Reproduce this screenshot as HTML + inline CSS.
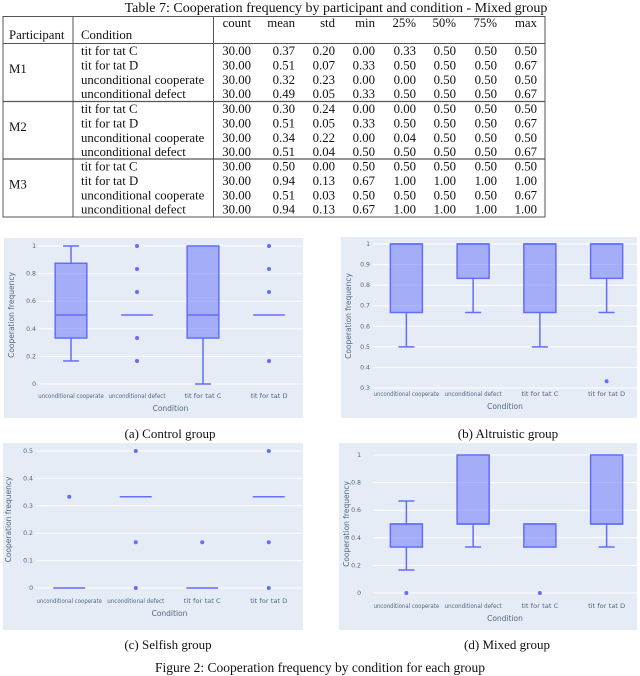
<!DOCTYPE html>
<html><head><meta charset="utf-8">
<style>
html,body{margin:0;padding:0;background:#fff;}
body{width:640px;height:676px;overflow:hidden;position:relative;}
svg{position:absolute;left:0;top:0;}
.serif{font-family:"Liberation Serif",serif;fill:#111;}
.tick{font-family:"DejaVu Sans","Liberation Sans",sans-serif;font-size:6.2px;fill:#506784;}
.axt{font-family:"DejaVu Sans","Liberation Sans",sans-serif;font-size:7.5px;fill:#506784;}
</style></head>
<body>
<svg id="main" width="640" height="676" viewBox="0 0 640 676" xmlns="http://www.w3.org/2000/svg">
<g>
<text class="serif" x="336" y="12" font-size="14" text-anchor="middle">Table 7: Cooperation frequency by participant and condition - Mixed group</text>
<rect x="3" y="16.5" width="542" height="200.5" fill="none" stroke="#555" stroke-width="1"/>
<line x1="73" y1="16.5" x2="73" y2="217" stroke="#555"/>
<line x1="213.5" y1="16.5" x2="213.5" y2="217" stroke="#555"/>
<line x1="3" y1="43.5" x2="545" y2="43.5" stroke="#555"/>
<line x1="3" y1="101.5" x2="545" y2="101.5" stroke="#555" stroke-width="1.3"/>
<line x1="3" y1="159" x2="545" y2="159" stroke="#555" stroke-width="1.3"/>
<g id="tbl"></g>
</g>
<g id="charts"></g>
<text class="serif" x="170" y="438" font-size="13" text-anchor="middle">(a) Control group</text>
<text class="serif" x="508" y="438" font-size="13" text-anchor="middle">(b) Altruistic group</text>
<text class="serif" x="168" y="649" font-size="13" text-anchor="middle">(c) Selfish group</text>
<text class="serif" x="507" y="649" font-size="13" text-anchor="middle">(d) Mixed group</text>
<text class="serif" x="320" y="672" font-size="13.5" text-anchor="middle">Figure 2: Cooperation frequency by condition for each group</text>
</svg>
<script>
const NS="http://www.w3.org/2000/svg";
// ---- table data ----
const headers=["count","mean","std","min","25%","50%","75%","max"];
const participants=["M1","M2","M3"];
const conditionsT=["tit for tat C","tit for tat D","unconditional cooperate","unconditional defect"];
const tableRows=[
["30.00","0.37","0.20","0.00","0.33","0.50","0.50","0.50"],
["30.00","0.51","0.07","0.33","0.50","0.50","0.50","0.67"],
["30.00","0.32","0.23","0.00","0.00","0.50","0.50","0.50"],
["30.00","0.49","0.05","0.33","0.50","0.50","0.50","0.67"],
["30.00","0.30","0.24","0.00","0.00","0.50","0.50","0.50"],
["30.00","0.51","0.05","0.33","0.50","0.50","0.50","0.67"],
["30.00","0.34","0.22","0.00","0.04","0.50","0.50","0.50"],
["30.00","0.51","0.04","0.50","0.50","0.50","0.50","0.67"],
["30.00","0.50","0.00","0.50","0.50","0.50","0.50","0.50"],
["30.00","0.94","0.13","0.67","1.00","1.00","1.00","1.00"],
["30.00","0.51","0.03","0.50","0.50","0.50","0.50","0.67"],
["30.00","0.94","0.13","0.67","1.00","1.00","1.00","1.00"]];
const colRight=[251,295,335,375,416,456,497,537];
const groupTop=[44,102,159.5];
function txt(parent,x,y,s,size,anchor,cls){
  const t=document.createElementNS(NS,"text");
  t.setAttribute("x",x);t.setAttribute("y",y);
  t.setAttribute("font-size",size);
  t.setAttribute("text-anchor",anchor||"start");
  t.setAttribute("class",cls||"serif");
  t.textContent=s;parent.appendChild(t);return t;
}
const tbl=document.getElementById("tbl");
headers.forEach((h,i)=>{
  const t=txt(tbl,colRight[i],27,h,12.8,"end");
  
  
});
let t0=txt(tbl,9,39,"Participant",12.8);


t0=txt(tbl,81,39,"Condition",12.8);


participants.forEach((p,g)=>{
  const top=groupTop[g];
  const pt=txt(tbl,9,top+29,p,12.8);
  
  
  conditionsT.forEach((c,r)=>{
    const y=top+11+r*14.4;
    const ct=txt(tbl,81,y,c,12.8);
    
    
    tableRows[g*4+r].forEach((v,i)=>{
      const vt=txt(tbl,colRight[i],y,v,12.8,"end");
      
      
    });
  });
});

// ---- chart data ----
const categories=["unconditional cooperate","unconditional defect","tit for tat C","tit for tat D"];
// Control group
const aLow=[0.167,0.5,0,0.5], aQ1=[0.333,0.5,0.333,0.5], aMed=[0.5,0.5,0.5,0.5], aQ3=[0.875,0.5,1,0.5], aHigh=[1,0.5,1,0.5];
const aOut=[[],[1,0.833,0.667,0.333,0.167],[],[1,0.833,0.667,0.167]];
const aTicks=[0,0.2,0.4,0.6,0.8,1];
// Altruistic group
const bLow=[0.5,0.667,0.5,0.667], bQ1=[0.667,0.833,0.667,0.833], bMed=[1,1,1,1], bQ3=[1,1,1,1], bHigh=[1,1,1,1];
const bOut=[[],[],[],[0.333]];
const bTicks=[0.3,0.4,0.5,0.6,0.7,0.8,0.9,1];
// Selfish group
const cLow=[0,0.333,0,0.333], cQ1=[0,0.333,0,0.333], cMed=[0,0.333,0,0.333], cQ3=[0,0.333,0,0.333], cHigh=[0,0.333,0,0.333];
const cOut=[[0.333],[0.5,0.167,0],[0.167],[0.5,0.167,0]];
const cTicks=[0,0.1,0.2,0.3,0.4,0.5];
// Mixed group
const dLow=[0.167,0.333,0.333,0.333], dQ1=[0.333,0.5,0.333,0.5], dMed=[0.5,0.5,0.5,0.5], dQ3=[0.5,1,0.5,1], dHigh=[0.667,1,0.5,1];
const dOut=[[0],[],[0],[]];
const dTicks=[0,0.2,0.4,0.6,0.8,1];

function el(parent,tag,attrs){
  const e=document.createElementNS(NS,tag);
  for(const k in attrs)e.setAttribute(k,attrs[k]);
  parent.appendChild(e);return e;
}
function drawChart(cfg,low,q1,med,q3,high,outs,ticks){
  const root=document.getElementById("charts");
  const g=el(root,"g",{});
  
  
  const bg=el(g,"rect",{x:cfg.px,y:cfg.py,width:cfg.pw,height:cfg.ph,fill:"#e5ecf6"});
  
  
  const yMin=cfg.yMin,yMax=cfg.yMax;
  const yS=v=>cfg.y0+(cfg.y1-cfg.y0)*(v-yMin)/(yMax-yMin);
  const band=(cfg.x1-cfg.x0)/categories.length;
  const xS=i=>cfg.x0+band*(i+0.5);
  const right=cfg.px+cfg.pw;
  ticks.forEach(t=>{
    const gl=el(g,"line",{x1:cfg.x0,x2:right,y1:yS(t),y2:yS(t),stroke:"#fff","stroke-width":1});
    
    
    const tl=txt(g,cfg.tickX,yS(t)+2,String(t),5.8,"end","tick");
    
    
  });
  const bw=band*0.48;
  categories.forEach((c,i)=>{
    const cx=xS(i);
    const bx=el(g,"g",{});
    
    
    const st={stroke:"#636efa","stroke-width":1.5,fill:"none"};
    el(bx,"line",Object.assign({x1:cx,x2:cx,y1:yS(low[i]),y2:yS(q1[i])},st));
    el(bx,"line",Object.assign({x1:cx,x2:cx,y1:yS(q3[i]),y2:yS(high[i])},st));
    if(low[i]<q1[i])el(bx,"line",Object.assign({x1:cx-bw/4,x2:cx+bw/4,y1:yS(low[i]),y2:yS(low[i])},st));
    if(high[i]>q3[i])el(bx,"line",Object.assign({x1:cx-bw/4,x2:cx+bw/4,y1:yS(high[i]),y2:yS(high[i])},st));
    el(bx,"rect",{x:cx-bw/2,y:yS(q3[i]),width:bw,height:Math.max(0,yS(q1[i])-yS(q3[i])),fill:"rgba(99,110,250,0.5)",stroke:"#636efa","stroke-width":1.5});
    el(bx,"line",Object.assign({x1:cx-bw/2,x2:cx+bw/2,y1:yS(med[i]),y2:yS(med[i])},st));
    outs[i].forEach(v=>{
      const d=el(bx,"circle",{cx:cx,cy:yS(v),r:2,fill:"#636efa"});
      
      
    });
    const xl=txt(g,cx,cfg.labY,c,6.2,"middle","tick");
    xl.setAttribute("textLength",Math.min(c.length*2.85,band));
    xl.setAttribute("lengthAdjust","spacingAndGlyphs");
    
    
  });
  const xt=txt(g,(cfg.x0+right)/2,cfg.labY+13,"Condition",7.5,"middle","axt");
  
  
  const yt=txt(g,0,0,"Cooperation frequency",7,"middle","axt");
  yt.setAttribute("transform","translate("+cfg.ytX+","+(cfg.y0+cfg.y1)/2+") rotate(-90)");
  
  
}
drawChart({name:"chart-control-group",px:4,py:238,pw:299,ph:180,x0:38,x1:302,y0:384,y1:246,yMin:0,yMax:1,tickX:36,labY:398,ytX:14},aLow,aQ1,aMed,aQ3,aHigh,aOut,aTicks);
drawChart({name:"chart-altruistic-group",px:341,py:237,pw:296,ph:181,x0:373,x1:640,y0:388,y1:244,yMin:0.3,yMax:1,tickX:370,labY:396,ytX:351},bLow,bQ1,bMed,bQ3,bHigh,bOut,bTicks);
drawChart({name:"chart-selfish-group",px:3,py:443,pw:300,ph:187,x0:36,x1:302,y0:588,y1:451,yMin:0,yMax:0.5,tickX:33,labY:603,ytX:11},cLow,cQ1,cMed,cQ3,cHigh,cOut,cTicks);
drawChart({name:"chart-mixed-group",px:339,py:443,pw:298,ph:187,x0:373,x1:640,y0:593,y1:455,yMin:0,yMax:1,tickX:361,labY:608,ytX:349},dLow,dQ1,dMed,dQ3,dHigh,dOut,dTicks);
</script>
</body></html>
